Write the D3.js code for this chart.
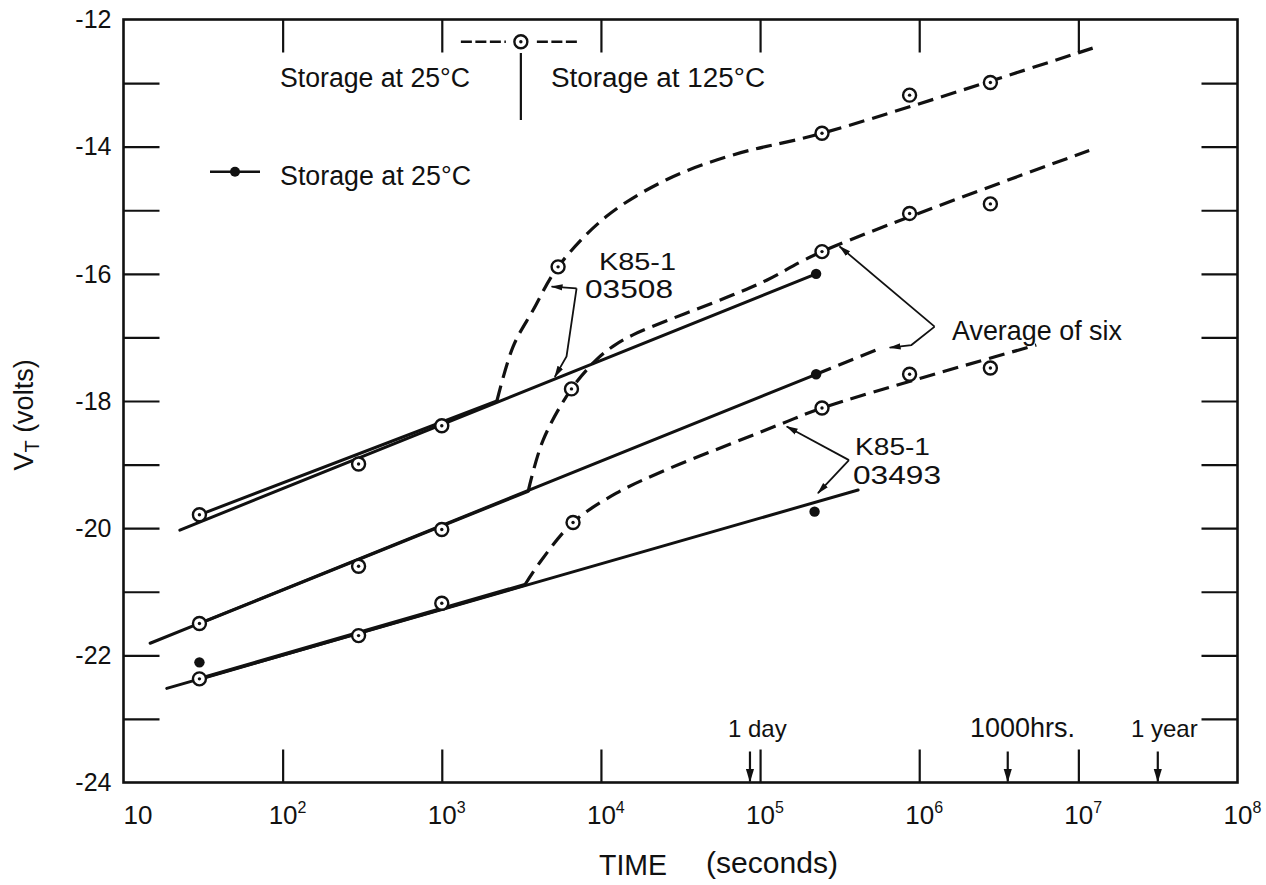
<!DOCTYPE html>
<html><head><meta charset="utf-8">
<script src="https://cdn.jsdelivr.net/npm/d3@7"></script>
<style>
body{margin:0;background:#fff}
svg{display:block}
text{font-family:"Liberation Sans",Arial,sans-serif;fill:#111}
</style>
</head><body>
<svg id="chart" width="1266" height="885"></svg>
<script>
// ---------- data ----------
const xTickValues = [1e1, 1e2, 1e3, 1e4, 1e5, 1e6, 1e7, 1e8];
const xTickExponents = ["", "2", "3", "4", "5", "6", "7", "8"];
const yTickValues = [-23, -22, -21, -20, -19, -18, -17, -16, -15, -14, -13];
const yLabelValues = [-24, -22, -20, -18, -16, -14, -12];

// open-circle samples (stored at 25°C, then at 125°C)
const s03508T = [30, 300, 1000, 5380, 2.45e5, 8.7e5, 2.8e6];
const s03508V = [-19.79, -18.99, -18.39, -15.89, -13.79, -13.19, -12.99];
const s03508SolidT = [30, 2220];
const s03508SolidV = [-19.79, -18.0];
const s03508CurveT = [2220, 2810, 3750, 5380, 10800, 25800, 67500, 2.45e5, 1.23e7];
const s03508CurveV = [-18.0, -17.14, -16.57, -15.89, -15.10, -14.52, -14.13, -13.79, -12.45];

const avgT = [30, 300, 1000, 6530, 2.45e5, 8.7e5, 2.8e6];
const avgV = [-21.5, -20.60, -20.02, -17.81, -15.65, -15.05, -14.90];
const avgSolidT = [30, 3490];
const avgSolidV = [-21.5, -19.42];
const avgCurveT = [3490, 4340, 6530, 9380, 11900, 15900, 67600, 1.1e5, 2.45e5, 1.17e7];
const avgCurveV = [-19.42, -18.61, -17.81, -17.35, -17.14, -16.96, -16.33, -16.10, -15.65, -14.06];

const s03493T = [30, 300, 1000, 6680, 2.45e5, 8.7e5, 2.8e6];
const s03493V = [-22.37, -21.69, -21.18, -19.91, -18.11, -17.58, -17.48];
const s03493SolidT = [30, 3330];
const s03493SolidV = [-22.37, -20.89];
const s03493CurveT = [3330, 4240, 6680, 12500, 25800, 67600, 1.39e5, 2.45e5, 5.44e6];
const s03493CurveV = [-20.89, -20.50, -19.91, -19.45, -19.08, -18.66, -18.35, -18.11, -17.12];

// filled-dot samples (stored at 25°C only)
const f03508LineT = [22.6, 2.25e5];
const f03508LineV = [-20.03, -16.0];
const f03508DotT = [2.25e5];
const f03508DotV = [-16.0];

const fAvgLineT = [14.7, 2.25e5];
const fAvgLineV = [-21.81, -17.58];
const fAvgExtT = [2.25e5, 5.6e5];
const fAvgExtV = [-17.58, -17.18];
const fAvgDotT = [2.25e5];
const fAvgDotV = [-17.58];

const f03493LineT = [18.7, 4.13e5];
const f03493LineV = [-22.52, -19.40];
const f03493DotT = [30, 2.2e5];
const f03493DotV = [-22.11, -19.74];

// annotation arrows (time, volts)
const ann03508T = [[7030, 4900], [7030, 6080, 5130]];
const ann03508V = [[-16.23, -16.20], [-16.23, -17.30, -17.62]];
const annAvgT = [[1.25e6, 3.16e5], [1.25e6, 8.93e5, 6.52e5]];
const annAvgV = [[-16.83, -15.57], [-16.83, -17.12, -17.16]];
const ann03493T = [[3.62e5, 1.47e5], [3.62e5, 2.31e5]];
const ann03493V = [[-18.93, -18.40], [-18.93, -19.45]];

const switchTime = 3140;
const timeMarks = [86400, 3.6e6, 3.156e7];
const timeMarkLabels = ["1 day", "1000hrs.", "1 year"];

// ---------- drawing ----------
const svg = d3.select("#chart");
const x = d3.scaleLog().domain([10, 1e8]).range([123.5, 1237.5]);
const y = d3.scaleLinear().domain([-24, -12]).range([782.5, 19.5]);

const defs = svg.append("defs");
defs.append("marker").attr("id", "ah").attr("viewBox", "0 -5 12 10")
  .attr("refX", 11).attr("refY", 0).attr("markerWidth", 12).attr("markerHeight", 10)
  .attr("markerUnits", "userSpaceOnUse").attr("orient", "auto")
  .append("path").attr("d", "M0,-3.2L12,0L0,3.2Z").attr("fill", "#111");
defs.append("marker").attr("id", "ahBig").attr("viewBox", "0 -5 14 10")
  .attr("refX", 13).attr("refY", 0).attr("markerWidth", 14).attr("markerHeight", 10)
  .attr("markerUnits", "userSpaceOnUse").attr("orient", "auto")
  .append("path").attr("d", "M0,-4.2L14,0L0,4.2Z").attr("fill", "#111");

// frame
svg.append("rect").attr("x", x.range()[0]).attr("y", y.range()[1])
  .attr("width", x.range()[1] - x.range()[0]).attr("height", y.range()[0] - y.range()[1])
  .attr("fill", "none").attr("stroke", "#111").attr("stroke-width", 2.6);

const innerX = xTickValues.slice(1, -1);
function styleAxis(g) {
  g.select(".domain").remove();
  g.selectAll(".tick line").attr("stroke", "#111").attr("stroke-width", 2.2);
  g.selectAll(".tick text").remove();
}
svg.append("g").attr("transform", `translate(0,${y(-24)})`)
  .call(d3.axisBottom(x).tickValues(innerX).tickSize(-33).tickFormat(() => "")).call(styleAxis);
svg.append("g").attr("transform", `translate(0,${y(-12)})`)
  .call(d3.axisTop(x).tickValues(innerX).tickSize(-33).tickFormat(() => "")).call(styleAxis);
svg.append("g").attr("transform", `translate(${x(10)},0)`)
  .call(d3.axisLeft(y).tickValues(yTickValues).tickSize(-36).tickFormat(() => "")).call(styleAxis);
svg.append("g").attr("transform", `translate(${x(1e8)},0)`)
  .call(d3.axisRight(y).tickValues(yTickValues).tickSize(-36).tickFormat(() => "")).call(styleAxis);

// x tick labels
xTickValues.forEach((v, i) => {
  const t = svg.append("text").attr("y", y(-24) + 41).attr("font-size", 26)
    .attr("x", i === 0 ? x(v) : x(v) - 14);
  t.append("tspan").text("10");
  if (xTickExponents[i]) t.append("tspan").attr("font-size", 16).attr("dy", -11).text(xTickExponents[i]);
});
// y tick labels
yLabelValues.forEach(v => {
  svg.append("text").attr("x", x(10) - 12).attr("y", y(v)).attr("dy", "0.35em")
    .attr("text-anchor", "end").attr("font-size", 25).text(v);
});

// axis titles
svg.append("text").attr("x", 599).attr("y", 875).attr("font-size", 29)
  .attr("textLength", 68).attr("lengthAdjust", "spacingAndGlyphs").text("TIME");
svg.append("text").attr("x", 706).attr("y", 873).attr("font-size", 29)
  .attr("textLength", 132).attr("lengthAdjust", "spacingAndGlyphs").text("(seconds)");
const yl = svg.append("text").attr("transform", "translate(33,415) rotate(-90)")
  .attr("text-anchor", "middle").attr("font-size", 27);
yl.append("tspan").text("V");
yl.append("tspan").attr("font-size", 20).attr("dy", 6).text("T");
yl.append("tspan").attr("dy", -6).text(" (volts)");

// line generators
const lin = d3.line().x(d => x(d[0])).y(d => y(d[1]));
const curve = d3.line().x(d => x(d[0])).y(d => y(d[1])).curve(d3.curveCatmullRom.alpha(0.5));
const zip = (a, b) => a.map((v, i) => [v, b[i]]);

function solid(T, V, w = 3) {
  svg.append("path").attr("d", lin(zip(T, V))).attr("fill", "none")
    .attr("stroke", "#111").attr("stroke-width", w).attr("stroke-linecap", "round");
}
function dashed(T, V, gen = curve) {
  svg.append("path").attr("d", gen(zip(T, V))).attr("fill", "none")
    .attr("stroke", "#111").attr("stroke-width", 3.2).attr("stroke-dasharray", "16,8");
}

// 25°C filled series lines
solid(f03508LineT, f03508LineV);
solid(fAvgLineT, fAvgLineV);
solid(f03493LineT, f03493LineV);
dashed(fAvgExtT, fAvgExtV, lin);

// open-circle series: solid part then dashed 125°C part
solid(s03508SolidT, s03508SolidV);
solid(avgSolidT, avgSolidV);
solid(s03493SolidT, s03493SolidV, 3.8);
dashed(s03508CurveT, s03508CurveV);
dashed(avgCurveT, avgCurveV);
dashed(s03493CurveT, s03493CurveV);

// markers
function circles(T, V) {
  const g = svg.append("g");
  zip(T, V).forEach(d => {
    g.append("circle").attr("cx", x(d[0])).attr("cy", y(d[1])).attr("r", 6.5)
      .attr("fill", "#fff").attr("stroke", "#111").attr("stroke-width", 2.4);
    g.append("circle").attr("cx", x(d[0])).attr("cy", y(d[1])).attr("r", 1.7).attr("fill", "#111");
  });
}
function dots(T, V) {
  svg.append("g").selectAll("circle").data(zip(T, V)).join("circle")
    .attr("cx", d => x(d[0])).attr("cy", d => y(d[1])).attr("r", 5.2).attr("fill", "#111");
}
circles(s03508T, s03508V);
circles(avgT, avgV);
circles(s03493T, s03493V);
dots(f03508DotT, f03508DotV);
dots(fAvgDotT, fAvgDotV);
dots(f03493DotT, f03493DotV);

// annotation arrows
function arrows(TT, VV) {
  TT.forEach((T, i) => {
    svg.append("path").attr("d", lin(zip(T, VV[i]))).attr("fill", "none")
      .attr("stroke", "#111").attr("stroke-width", 1.8).attr("marker-end", "url(#ah)");
  });
}
arrows(ann03508T, ann03508V);
arrows(annAvgT, annAvgV);
arrows(ann03493T, ann03493V);

function label(txt, px, py, len, fs = 27) {
  svg.append("text").attr("x", px).attr("y", py).attr("font-size", fs)
    .attr("textLength", len).attr("lengthAdjust", "spacingAndGlyphs").text(txt);
}
label("K85-1", 599, 269.5, 77, 24);
label("03508", 585, 298, 88, 25);
label("Average of six", 952, 339.5, 170, 27);
label("K85-1", 855, 454.5, 75, 24);
label("03493", 853, 484, 88, 25);

// time marks on the x axis
timeMarks.forEach(t => {
  svg.append("line").attr("x1", x(t)).attr("x2", x(t))
    .attr("y1", y(-24) - 31).attr("y2", y(-24) - 1)
    .attr("stroke", "#111").attr("stroke-width", 2.2).attr("marker-end", "url(#ahBig)");
});
svg.append("text").attr("x", 728).attr("y", 736.7).attr("font-size", 24).text(timeMarkLabels[0]);
label(timeMarkLabels[1], 970, 736.7, 105, 27);
svg.append("text").attr("x", 1131).attr("y", 736.7).attr("font-size", 24).text(timeMarkLabels[2]);

// legends
const sx = x(switchTime);
svg.append("line").attr("x1", sx).attr("x2", sx).attr("y1", 53).attr("y2", 120)
  .attr("stroke", "#111").attr("stroke-width", 2.2);
[[sx - 60, sx - 15], [sx + 16, sx + 58]].forEach(s => {
  svg.append("line").attr("x1", s[0]).attr("x2", s[1]).attr("y1", 41.7).attr("y2", 41.7)
    .attr("stroke", "#111").attr("stroke-width", 2.4).attr("stroke-dasharray", "11,3.5");
});
svg.append("circle").attr("cx", sx).attr("cy", 41.7).attr("r", 6.5)
  .attr("fill", "#fff").attr("stroke", "#111").attr("stroke-width", 2.4);
svg.append("circle").attr("cx", sx).attr("cy", 41.7).attr("r", 1.7).attr("fill", "#111");
label("Storage at 25°C", 280, 87, 190, 27);
label("Storage at 125°C", 551, 87, 214, 27);

svg.append("line").attr("x1", 210).attr("x2", 260).attr("y1", 171.7).attr("y2", 171.7)
  .attr("stroke", "#111").attr("stroke-width", 2.6);
svg.append("circle").attr("cx", 235).attr("cy", 171.7).attr("r", 5).attr("fill", "#111");
label("Storage at 25°C", 280, 185, 191, 27);
</script>
</body></html>
